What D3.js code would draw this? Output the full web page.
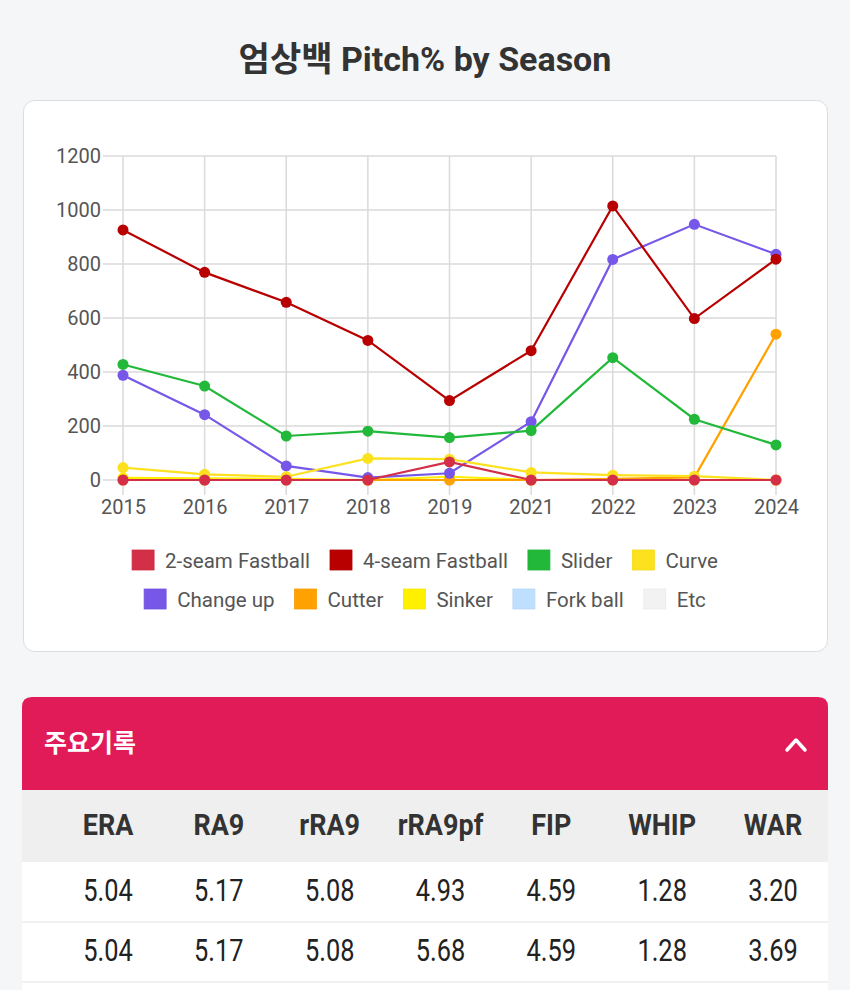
<!DOCTYPE html>
<html>
<head>
<meta charset="utf-8">
<script src="https://cdn.jsdelivr.net/npm/d3@7/dist/d3.min.js"></script>
<style>
  html, body { margin: 0; padding: 0; background: #f5f6f8; }
  svg { display: block; }
  text { font-family: Roboto, "Noto Sans CJK KR", sans-serif; }
</style>
</head>
<body>
<svg id="chart" width="850" height="990"></svg>
<script>
// ---------- DATA ----------
const seasons = ["2015", "2016", "2017", "2018", "2019", "2021", "2022", "2023", "2024"];
const yTicks = [0, 200, 400, 600, 800, 1000, 1200];

const twoSeamFastball  = [0, 0, 0, 0, 67, 0, 0, 0, 0];
const fourSeamFastball = [926, 769, 658, 517, 294, 479, 1015, 598, 818];
const slider           = [428, 348, 163, 181, 157, 183, 453, 225, 130];
const curve            = [46, 21, 12, 80, 77, 28, 18, 14, 0];
const changeUp         = [388, 242, 52, 9, 25, 216, 817, 947, 836];
const cutter           = [0, 0, 0, 0, 0, 0, 4, 10, 540];
const sinker           = [8, 6, 4, 0, 12, 0, 0, 0, 0];
const forkBall         = [0, 0, 0, 0, 0, 0, 0, 0, 0];
const etc              = [0, 0, 0, 0, 0, 0, 0, 0, 0];

const seriesNames  = ["2-seam Fastball", "4-seam Fastball", "Slider", "Curve", "Change up", "Cutter", "Sinker", "Fork ball", "Etc"];
const seriesValues = [twoSeamFastball, fourSeamFastball, slider, curve, changeUp, cutter, sinker, forkBall, etc];
const seriesColors = ["#D42F48", "#B80000", "#22B83A", "#FCE11F", "#7657E8", "#FFA200", "#FFF000", "#BFDFFF", "#F2F2F2"];

const pageTitle = "엄상백 Pitch% by Season";
const tableTitle = "주요기록";
const statHeaders = ["ERA", "RA9", "rRA9", "rRA9pf", "FIP", "WHIP", "WAR"];
const statRow1 = ["5.04", "5.17", "5.08", "4.93", "4.59", "1.28", "3.20"];
const statRow2 = ["5.04", "5.17", "5.08", "5.68", "4.59", "1.28", "3.69"];

// ---------- DRAW ----------
const svg = d3.select("#chart");

// title
svg.append("text")
  .attr("x", 425).attr("y", 71)
  .attr("text-anchor", "middle")
  .attr("font-size", 34).attr("font-weight", 700)
  .attr("fill", "#333")
  .text(pageTitle);

// card
svg.append("rect")
  .attr("x", 23.5).attr("y", 100.5).attr("width", 804).attr("height", 551)
  .attr("rx", 11).attr("fill", "#fff").attr("stroke", "#dcdcdc");

// scales
const x = d3.scalePoint().domain(seasons).range([123, 776]);
const y = d3.scaleLinear().domain([0, 1200]).range([480, 156]);

const grid = svg.append("g");
grid.selectAll("line.h").data(yTicks).join("line")
  .attr("x1", 103).attr("x2", 776)
  .attr("y1", d => y(d)).attr("y2", d => y(d))
  .attr("stroke", "#dadada").attr("stroke-width", 1.5);
grid.selectAll("line.v").data(seasons).join("line")
  .attr("x1", d => x(d)).attr("x2", d => x(d))
  .attr("y1", 156).attr("y2", 495)
  .attr("stroke", "#dadada").attr("stroke-width", 1.5);

const yAxis = svg.append("g").attr("transform", "translate(103,0)")
  .call(d3.axisLeft(y).tickValues(yTicks).tickFormat(d3.format("d")).tickSize(0).tickPadding(2));
yAxis.select(".domain").remove();
yAxis.selectAll("text").attr("font-size", 20).attr("fill", "#555")
  .attr("font-family", "Roboto, sans-serif");

const xAxis = svg.append("g").attr("transform", "translate(0,494)")
  .call(d3.axisBottom(x).tickSize(0).tickPadding(6));
xAxis.select(".domain").remove();
xAxis.selectAll("text").attr("font-size", 20).attr("fill", "#555")
  .attr("font-family", "Roboto, sans-serif");

// lines: draw last series first so first is on top
const line = d3.line().x((d, i) => x(seasons[i])).y(d => y(d));
const order = d3.range(seriesNames.length).reverse();
const plot = svg.append("g");
order.forEach(k => {
  const g = plot.append("g");
  g.append("path")
    .attr("d", line(seriesValues[k]))
    .attr("fill", "none")
    .attr("stroke", seriesColors[k])
    .attr("stroke-width", 2.2);
  g.selectAll("circle").data(seriesValues[k]).join("circle")
    .attr("cx", (d, i) => x(seasons[i]))
    .attr("cy", d => y(d))
    .attr("r", 5.5)
    .attr("fill", seriesColors[k]);
});

// legend
const legendRows = [[0, 1, 2, 3], [4, 5, 6, 7, 8]];
const legendY = [560, 599];
const boxW = 22, boxH = 20, boxGap = 11, itemGap = 20;
legendRows.forEach((row, r) => {
  const lg = svg.append("g");
  const items = row.map(k => {
    const t = lg.append("text")
      .attr("font-size", 20.5).attr("fill", "#555")
      .attr("dominant-baseline", "central")
      .text(seriesNames[k]);
    return { k, t, w: t.node().getComputedTextLength() };
  });
  const total = d3.sum(items, d => boxW + boxGap + d.w) + itemGap * (items.length - 1);
  let cx = 425 - total / 2;
  items.forEach(it => {
    lg.append("rect")
      .attr("x", cx).attr("y", legendY[r] - boxH / 2)
      .attr("width", boxW).attr("height", boxH)
      .attr("fill", seriesColors[it.k])
      .attr("stroke", d3.color(seriesColors[it.k]).darker(0.1)).attr("stroke-width", 0.8);
    it.t.attr("x", cx + boxW + boxGap).attr("y", legendY[r] + 1);
    cx += boxW + boxGap + it.w + itemGap;
  });
});

// ---------- TABLE ----------
const tx0 = 22, tx1 = 828;
const hr = 10;
svg.append("path")
  .attr("d", `M${tx0},790 V${697 + hr} Q${tx0},697 ${tx0 + hr},697 H${tx1 - hr} Q${tx1},697 ${tx1},${697 + hr} V790 Z`)
  .attr("fill", "#E11A58");
svg.append("text")
  .attr("x", 44).attr("y", 752)
  .attr("font-size", 25).attr("font-weight", 700).attr("fill", "#fff")
  .text(tableTitle);
svg.append("path")
  .attr("d", "M787,750 L796,740 L805,750")
  .attr("fill", "none").attr("stroke", "#fff").attr("stroke-width", 3.5)
  .attr("stroke-linecap", "round").attr("stroke-linejoin", "round");

svg.append("rect").attr("x", tx0).attr("y", 790).attr("width", tx1 - tx0).attr("height", 72).attr("fill", "#efefef");
svg.append("rect").attr("x", tx0).attr("y", 862).attr("width", tx1 - tx0).attr("height", 128).attr("fill", "#fff");
[922, 982].forEach(yy => {
  svg.append("line").attr("x1", tx0).attr("x2", tx1).attr("y1", yy).attr("y2", yy)
    .attr("stroke", "#ececec").attr("stroke-width", 1.5);
});

const col = d3.scaleBand().domain(statHeaders).range([52.6, 828.4]);
const cxOf = i => col(statHeaders[i]) + col.bandwidth() / 2;
svg.append("g").selectAll("text").data(statHeaders).join("text")
  .attr("transform", (d, i) => `translate(${cxOf(i)},835) scale(0.9,1)`)
  .attr("text-anchor", "middle")
  .attr("font-size", 30).attr("font-weight", 700).attr("fill", "#333")
  .text(d => d);
[[statRow1, 901], [statRow2, 961]].forEach(([row, yy]) => {
  svg.append("g").selectAll("text").data(row).join("text")
    .attr("transform", (d, i) => `translate(${cxOf(i)},${yy}) scale(0.82,1)`)
    .attr("text-anchor", "middle")
    .attr("font-size", 31).attr("fill", "#222")
    .text(d => d);
});
</script>
</body>
</html>
